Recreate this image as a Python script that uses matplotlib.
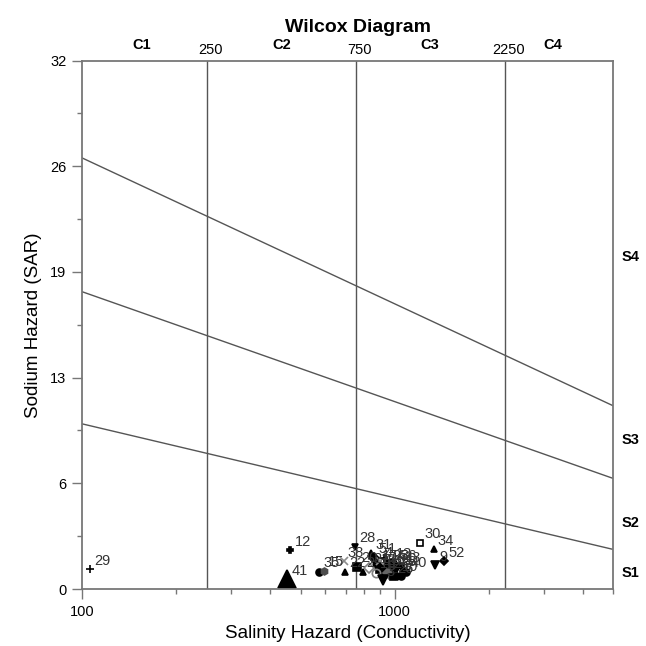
import numpy as np
import matplotlib
matplotlib.use("Agg")
import matplotlib.pyplot as plt
from matplotlib.ticker import FixedLocator, NullFormatter, LogLocator

plt.rcParams['font.family'] = ['Liberation Sans', 'DejaVu Sans']

# sample data
ids = [29, 12, 41, 35, 15, 22, 38, 28, 31, 20, 2,
       5, 17, 18, 8, 19, 23, 13, 11, 40, 43, 6, 4, 16, 21, 25, 3, 26, 36, 1, 7, 10,
       30, 34, 9, 52]
ec = [106, 463, 452, 574, 592, 695, 686, 748, 841, 756, 789,
      860, 880, 900, 920, 940, 960, 980, 1000, 1088, 1040, 1060, 900, 870, 830, 950,
      915, 990, 1010, 925, 1050, 1020,
      1206, 1333, 1346, 1442]
sar = [1.19, 2.36, 0.59, 1.05, 1.1, 1.05, 1.7, 2.56, 2.18, 1.35, 1.05,
       1.9, 1.5, 1.2, 0.9, 1.3, 1.0, 1.6, 1.2, 1.05, 1.4, 1.1, 1.7, 1.0, 1.3, 1.5,
       0.55, 0.7, 1.5, 1.9, 0.8, 0.8,
       2.8, 2.4, 1.45, 1.7]
markers = ['+', 'P', '^', 'o', 'h', '^', 'x', 'v', '^', 's', '^',
           'D', 'o', 's', 'v', '^', 'D', 'o', 'p', 'o', '*', 'd', 'x', 'o', 'D', 'v',
           'v', 's', '^', '+', 'o', 'h',
           's', '^', 'v', 'D']
colors = ['k', 'k', 'k', 'k', '0.3', 'k', '0.55', 'k', 'k', 'k', 'k',
          'k', 'k', 'k', 'k', 'k', '0.4', 'k', 'k', 'k', 'k', 'k', '0.55', '0.5', '0.5', 'k',
          'k', 'k', 'k', 'k', 'k', 'k',
          'k', 'k', 'k', 'k']
sizes = [6, 4, 13, 5, 5, 4, 6, 5, 4, 6, 5,
         5, 6, 6, 6, 5, 6, 6, 6, 5, 7, 5, 6, 6, 5, 6,
         7, 5, 5, 6, 5, 5,
         5, 4, 6, 4]
open_marker = [30, 16, 21]

# classification lines (Richards / Wilcox)
ec_bounds = [250, 750, 2250]
sar_lines_start = [26.1, 18.0, 10.0]   # at EC = 100
sar_lines_end = [11.1, 6.7, 2.4]       # at EC = 5000
c_labels = ['C1', 'C2', 'C3', 'C4']
c_label_x = [155, 435, 1295, 3215]
s_labels = ['S1', 'S2', 'S3', 'S4']
s_label_y = [0.97, 4.0, 9.0, 20.1]

y_major = [0, 6.4, 12.8, 19.2, 25.6, 32]
y_major_lbl = ['0', '6', '13', '19', '26', '32']

fig = plt.figure(figsize=(6.46, 6.46), dpi=100)
ax = fig.add_axes([0.1274, 0.0882, 0.8216, 0.818])
ax.set_xscale('log')
ax.set_xlim(100, 5000)
ax.set_ylim(0, 32)

lc = '#555555'
for b in ec_bounds:
    ax.plot([b, b], [0, 32], color=lc, lw=1.0)
for s0, s1 in zip(sar_lines_start, sar_lines_end):
    ax.plot([100, 5000], [s0, s1], color=lc, lw=1.0)

for i in range(len(ids)):
    fc = 'none' if ids[i] in open_marker else colors[i]
    ax.plot(ec[i], sar[i], marker=markers[i], ms=sizes[i], color=colors[i],
            mfc=fc, mec=colors[i], mew=1.2, ls='none', clip_on=False)
    ax.annotate(str(ids[i]), (ec[i], sar[i]), xytext=(3, 1), textcoords='offset points',
                ha='left', va='bottom', fontsize=10.5, color='#333333')

# ticks
ax.xaxis.set_major_locator(FixedLocator([100, 1000]))
ax.set_xticklabels(['100', '1000'])
ax.xaxis.set_minor_locator(LogLocator(base=10, subs=np.arange(2, 10)))
ax.xaxis.set_minor_formatter(NullFormatter())
ax.yaxis.set_major_locator(FixedLocator(y_major))
ax.set_yticklabels(y_major_lbl)
ax.yaxis.set_minor_locator(FixedLocator([3.2, 9.6, 16.0, 22.4, 28.8]))
ax.tick_params(which='major', length=7.5, width=1.0, color='#777777', labelsize=10.5, pad=4)
ax.tick_params(which='minor', length=3.5, width=1.0, color='#777777')
for sp in ax.spines.values():
    sp.set_color('#777777')
    sp.set_linewidth(1.3)

# class labels
tr = ax.get_xaxis_transform()
for lbl, x in zip(c_labels, c_label_x):
    ax.text(x, 1.017, lbl, transform=tr, ha='center', va='bottom',
            fontsize=10.5, fontweight='bold')
for b in ec_bounds:
    ax.text(b * 1.03, 1.006, str(b), transform=tr, ha='center', va='bottom',
            fontsize=10.5)
ty = ax.get_yaxis_transform()
for lbl, y in zip(s_labels, s_label_y):
    ax.text(1.017, y, lbl, transform=ty, ha='left', va='center',
            fontsize=10.5, fontweight='bold')

fig.text(0.554, 0.958, 'Wilcox Diagram', ha='center', va='center',
         fontsize=14, fontweight='bold')
ax.set_xlabel('Salinity Hazard (Conductivity)', fontsize=13.5, labelpad=4)
ax.set_ylabel('Sodium Hazard (SAR)', fontsize=13.5, labelpad=6)

fig.savefig('out.png', dpi=100)
